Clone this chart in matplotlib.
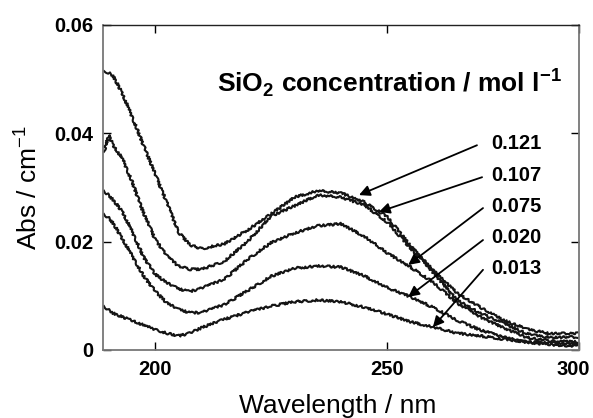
import matplotlib

matplotlib.use("Agg")
import matplotlib.pyplot as plt  # noqa: E402
from matplotlib.transforms import ScaledTranslation  # noqa: E402

plt.rcParams["font.family"] = ["Liberation Sans", "DejaVu Sans"]
plt.rcParams["mathtext.fontset"] = "custom"
plt.rcParams["mathtext.rm"] = "Liberation Sans"
plt.rcParams["mathtext.bf"] = "Liberation Sans:bold"

# wavelength grid (nm)
wavelength = [189, 190, 191, 193, 195, 197.5, 200, 202.5, 205, 207.5, 210, 215, 220,
              225, 230, 235, 240, 245, 250, 255, 260, 265, 270, 275, 280, 285, 291]

# absorbance (cm^-1) for each SiO2 concentration (mol/l)
abs_0121 = [0.0515, 0.0512, 0.0506, 0.0473, 0.0432, 0.0378, 0.0325, 0.0273, 0.0218,
            0.0194, 0.0187, 0.0196, 0.0222, 0.0251, 0.0282, 0.0294, 0.0290, 0.0273,
            0.0246, 0.0192, 0.0146, 0.0105, 0.0079, 0.0055, 0.0039, 0.0030, 0.0031]
abs_0107 = [0.0366, 0.0397, 0.0378, 0.0353, 0.0312, 0.0253, 0.0205, 0.0174, 0.0155,
            0.0149, 0.0149, 0.0164, 0.0201, 0.0247, 0.0266, 0.0286, 0.0282, 0.0268,
            0.0236, 0.0188, 0.0142, 0.0092, 0.0068, 0.0050, 0.0030, 0.0023, 0.0024]
abs_0075 = [0.0294, 0.0286, 0.0277, 0.0255, 0.0220, 0.0172, 0.0140, 0.0124, 0.0113,
            0.0108, 0.0114, 0.0131, 0.0168, 0.0198, 0.0216, 0.0229, 0.0233, 0.0210,
            0.0179, 0.0153, 0.0124, 0.0087, 0.0061, 0.0041, 0.0023, 0.0017, 0.0015]
abs_0020 = [0.0251, 0.0244, 0.0234, 0.0205, 0.0175, 0.0137, 0.0109, 0.0087, 0.0075,
            0.0069, 0.0069, 0.0084, 0.0110, 0.0136, 0.0151, 0.0155, 0.0153, 0.0137,
            0.0115, 0.0098, 0.0078, 0.0055, 0.0037, 0.0024, 0.0014, 0.0010, 0.0007]
abs_0013 = [0.0081, 0.0074, 0.0068, 0.0061, 0.0055, 0.0046, 0.0038, 0.0031, 0.0026,
            0.0031, 0.0041, 0.0057, 0.0070, 0.0081, 0.0089, 0.0092, 0.0089, 0.0079,
            0.0066, 0.0052, 0.0042, 0.0031, 0.0026, 0.0020, 0.0015, 0.0013, 0.0011]

series = [abs_0121, abs_0107, abs_0075, abs_0020, abs_0013]
conc_labels = ["0.121", "0.107", "0.075", "0.020", "0.013"]
label_y = [0.0382, 0.0323, 0.0264, 0.0207, 0.0151]
arrow_tail = [(269.3, 0.0378), (270.4, 0.0319), (270.6, 0.0262), (270.6, 0.0203), (270.6, 0.0148)]
arrow_tip = [(243.9, 0.0286), (248.2, 0.0255), (254.5, 0.0157), (254.5, 0.0098), (259.8, 0.0042)]

x_ticks = [200, 250, 291.2]
x_ticklabels = ["200", "250", "300"]
y_ticks = [0, 0.02, 0.04, 0.06]
y_ticklabels = ["0", "0.02", "0.04", "0.06"]

fig = plt.figure(figsize=(5.93, 4.18), dpi=100)
ax = fig.add_axes([0.1737, 0.1627, 0.8022, 0.7775])

for ys in series:
    ln, = ax.plot(wavelength, ys, color="#151515", lw=1.5)
    ln.set_sketch_params(scale=1.1, length=3, randomness=6)

ax.set_xlim(188.8, 291.2)
ax.set_ylim(0, 0.06)
ax.set_xticks(x_ticks)
ax.set_xticklabels(x_ticklabels)
ax.set_yticks(y_ticks)
ax.set_yticklabels(y_ticklabels)
ax.tick_params(direction="in", top=True, right=True, length=6, width=1.0,
               labelsize=14.5, pad=7)
for lab in ax.get_xticklabels() + ax.get_yticklabels():
    lab.set_fontweight("bold")
# the "300" label sits a little inside the right edge, as in the reference
last = ax.get_xticklabels()[-1]
last.set_transform(last.get_transform() + ScaledTranslation(-5 / 100, 0, fig.dpi_scale_trans))

for side in ["left", "bottom", "right"]:
    ax.spines[side].set_color("#777777")
    ax.spines[side].set_linewidth(1.3)
ax.spines["top"].set_color("#222222")
ax.spines["top"].set_linewidth(1.0)

ax.set_xlabel("Wavelength / nm", fontsize=19)
ax.xaxis.set_label_coords(0.493, -0.135)
ax.set_ylabel("Abs / cm$^{-1}$", fontsize=19)
ax.yaxis.set_label_coords(-0.13, 0.5)

ax.text(250.5, 0.0493, r"SiO$_\mathbf{2}$ concentration / mol l$^\mathbf{-1}$",
        fontsize=19, fontweight="bold", ha="center", va="center")

for lab, ly, tail, tip in zip(conc_labels, label_y, arrow_tail, arrow_tip):
    ax.text(272.3, ly, lab, fontsize=14.5, fontweight="bold", ha="left", va="center")
    ax.annotate("", xy=tip, xytext=tail,
                arrowprops=dict(arrowstyle="-|>", color="black", lw=1.3,
                                mutation_scale=16, shrinkA=0, shrinkB=0))

fig.savefig("out.png", dpi=100, facecolor="white")
